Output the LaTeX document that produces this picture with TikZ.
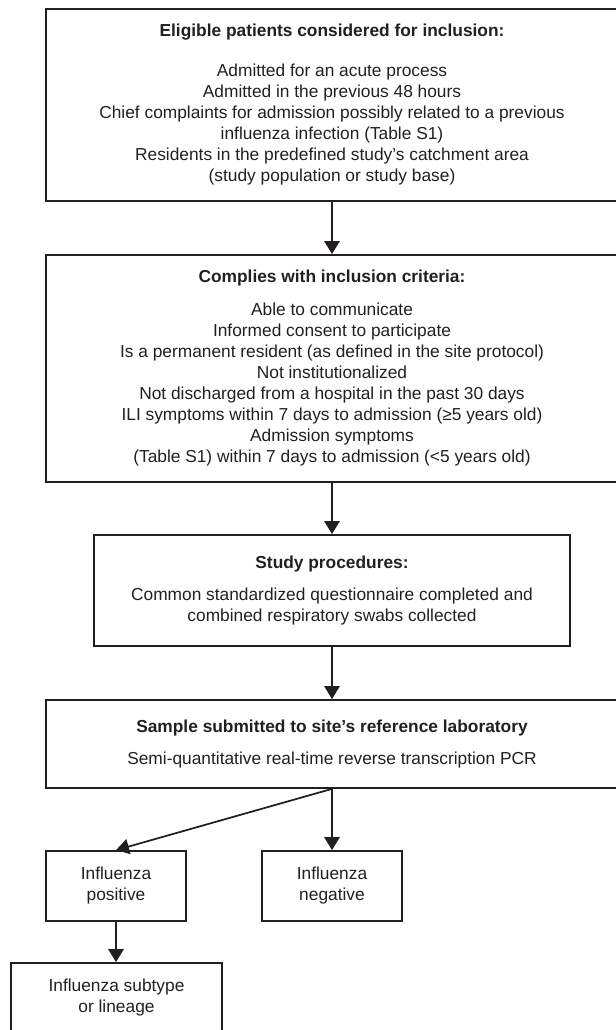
\documentclass[tikz,border=0pt]{standalone}
\usepackage{fontspec}
\setmainfont{Liberation Sans}
\usetikzlibrary{arrows.meta}
\definecolor{ink}{HTML}{231F20}
\begin{document}
\begin{tikzpicture}[x=.75pt, y=-.75pt, >={Triangle[length=9.75pt,width=11.5pt]},
    box/.style={draw=ink, line width=1.3pt, text=ink, align=center, inner sep=0pt,
        font=\fontsize{13}{15.75}\selectfont},
    link/.style={->, draw=ink, line width=1.3pt}]
    \useasboundingbox (0,0) rectangle (616,1030);

    \node [box, minimum width=429pt, minimum height=144.2pt] (elig) at (332,104.8)
        {\textbf{Eligible patients considered for inclusion:}\\[14pt]
         Admitted for an acute process\\
         Admitted in the previous 48 hours\\
         Chief complaints for admission possibly related to a previous\\
         influenza infection (Table S1)\\
         Residents in the predefined study’s catchment area\\
         (study population or study base)};
    \node [box, minimum width=429pt, minimum height=170.3pt] (crit) at (332,368.5)
        {\textbf{Complies with inclusion criteria:}\\[9pt]
         Able to communicate\\
         Informed consent to participate\\
         Is a permanent resident (as defined in the site protocol)\\
         Not institutionalized\\
         Not discharged from a hospital in the past 30 days\\
         ILI symptoms within 7 days to admission (≥5 years old)\\
         Admission symptoms\\
         (Table S1) within 7 days to admission (<5 years old)};
    \node [box, minimum width=357pt, minimum height=83.3pt] (proc) at (332,590.5)
        {\textbf{Study procedures:}\\[8.25pt]
         Common standardized questionnaire completed and\\
         combined respiratory swabs collected};
    \node [box, minimum width=429pt, minimum height=66pt] (lab) at (332,744)
        {\textbf{Sample submitted to site’s reference laboratory}\\[8.25pt]
         Semi-quantitative real-time reverse transcription PCR};

    \node [box, minimum width=105pt, minimum height=52.5pt] (pos) at (116,886)
        {Influenza\\positive};
    \node [box, minimum width=105pt, minimum height=52.5pt] (neg) at (332,886)
        {Influenza\\negative};
    \node [box, minimum width=158.3pt, minimum height=51.8pt] (sub) at (116.5,997.5)
        {Influenza subtype\\or lineage};

    \draw [link] (elig.south) -- (crit.north);
    \draw [link] (crit.south) -- (proc.north);
    \draw [link] (proc.south) -- (lab.north);
    \draw [link] (lab.south) -- (pos.north);
    \draw [link] (lab.south) -- (neg.north);
    \draw [link] (pos.south) -- (pos.south |- sub.north);
\end{tikzpicture}
\end{document}
